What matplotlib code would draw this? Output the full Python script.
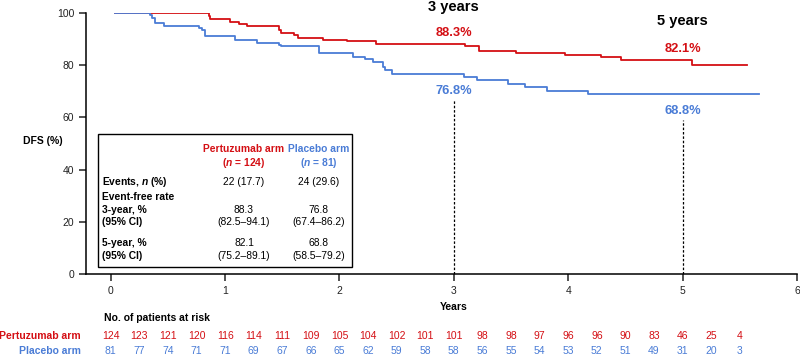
import matplotlib
matplotlib.use('Agg')
import matplotlib.pyplot as plt
from matplotlib.patches import Rectangle
from matplotlib.transforms import blended_transform_factory

plt.rcParams['font.family'] = ['Liberation Sans', 'DejaVu Sans']
plt.rcParams['mathtext.fontset'] = 'custom'
plt.rcParams['mathtext.it'] = 'Liberation Sans:italic:bold'
plt.rcParams['mathtext.rm'] = 'Liberation Sans:bold'

RED = '#d40f14'
BLUE = '#4a7cd6'

# KM curves (years, DFS %)
pert_t = [0.04, 0.86, 0.87, 1.04, 1.12, 1.19, 1.47, 1.49, 1.60, 1.64, 1.86, 2.07,
          2.32, 3.10, 3.22, 3.54, 3.97, 4.29, 4.46, 5.08, 5.56]
pert_s = [100, 99.0, 97.7, 96.7, 95.8, 95.0, 93.3, 92.3, 91.7, 90.6, 89.8, 89.1,
          88.3, 87.3, 85.6, 84.8, 83.8, 83.1, 82.1, 79.9, 79.9]
plac_t = [0.04, 0.34, 0.36, 0.39, 0.47, 0.77, 0.80, 0.82, 1.09, 1.28, 1.47, 1.49,
          1.82, 2.12, 2.22, 2.29, 2.38, 2.40, 2.46, 3.09, 3.20, 3.47, 3.62, 3.81,
          4.17, 5.67]
plac_s = [100, 99.1, 98.0, 96.2, 95.1, 94.2, 93.3, 91.0, 89.5, 88.5, 87.8, 87.2,
          84.6, 83.3, 82.3, 81.2, 79.5, 78.2, 76.8, 75.4, 74.2, 72.8, 71.8, 70.2,
          68.8, 68.8]

# landmark rates
marks = [3, 5]
pert_rate = [88.3, 82.1]
plac_rate = [76.8, 68.8]

# numbers at risk every 0.25 years
risk_t = [i * 0.25 for i in range(23)]
pert_risk = [124, 123, 121, 120, 116, 114, 111, 109, 105, 104, 102, 101, 101,
             98, 98, 97, 96, 96, 90, 83, 46, 25, 4]
plac_risk = [81, 77, 74, 71, 71, 69, 67, 66, 65, 62, 59, 58, 58, 56, 55, 54,
             53, 52, 51, 49, 31, 20, 3]

W, H = 800, 359
fig = plt.figure(figsize=(W / 100, H / 100), dpi=100)
ax = fig.add_axes([86 / W, 1 - 274 / H, (797 - 86) / W, (274 - 13) / H])


def fp(x, y):
    # pixel position -> figure fraction
    return x / W, 1 - y / H


ax.step(pert_t, pert_s, where='post', color=RED, lw=1.3)
ax.step(plac_t, plac_s, where='post', color=BLUE, lw=1.3)

ax.set_xlim(-0.216, 6)
ax.set_ylim(0, 100)
ax.set_xticks(range(7))
ax.set_yticks(range(0, 101, 20))
for s in ['top', 'right']:
    ax.spines[s].set_visible(False)
for s in ['left', 'bottom']:
    ax.spines[s].set_linewidth(1.1)
ax.tick_params(labelsize=7.5, length=5, width=1.1, colors='#222222')

# landmark lines and labels
tb = blended_transform_factory(ax.transData, fig.transFigure)
dash_top = [66.7, 59.0]
yr_lab_y = [7.5, 20.5]
pert_lab_y = [33, 49.5]
plac_lab_y = [91, 111]
for i, m in enumerate(marks):
    ax.plot([m, m], [0, dash_top[i]], ls=(0, (2, 1.5)), color='black', lw=0.9)
    ax.text(m, 1 - yr_lab_y[i] / H, f'{m} years', transform=tb, ha='center',
            va='center', fontsize=10.5, fontweight='bold')
    ax.text(m, 1 - pert_lab_y[i] / H, f'{pert_rate[i]}%', transform=tb, ha='center',
            va='center', fontsize=9.3, fontweight='bold', color=RED)
    ax.text(m, 1 - plac_lab_y[i] / H, f'{plac_rate[i]}%', transform=tb, ha='center',
            va='center', fontsize=9.3, fontweight='bold', color=BLUE)

fig.text(*fp(43, 141), 'DFS (%)', ha='center', va='center', fontsize=7.5, fontweight='bold')
fig.text(*fp(454, 307), 'Years', ha='center', va='center', fontsize=7.5, fontweight='bold')

# summary box
x0, y0 = fp(98.3, 267.3)
x1, y1 = fp(351.7, 134)
fig.add_artist(Rectangle((x0, y0), x1 - x0, y1 - y0, transform=fig.transFigure,
                         fill=False, lw=1.0, ec='black'))
tfs = 7.4
c1, c2 = 244, 318.5
fig.text(*fp(c1, 149.5), 'Pertuzumab arm', ha='center', va='center', fontsize=tfs,
         fontweight='bold', color=RED)
fig.text(*fp(c1, 162.5), '($n$ = 124)', ha='center', va='center', fontsize=tfs,
         fontweight='bold', color=RED)
fig.text(*fp(c2, 149.5), 'Placebo arm', ha='center', va='center', fontsize=tfs,
         fontweight='bold', color=BLUE)
fig.text(*fp(c2, 162.5), '($n$ = 81)', ha='center', va='center', fontsize=tfs,
         fontweight='bold', color=BLUE)
rows = [
    (181.7, 'Events, $n$ (%)', '22 (17.7)', '24 (29.6)'),
    (196.7, 'Event-free rate', '', ''),
    (210, '3-year, %', '88.3', '76.8'),
    (221.7, '(95% CI)', '(82.5–94.1)', '(67.4–86.2)'),
    (243.3, '5-year, %', '82.1', '68.8'),
    (256, '(95% CI)', '(75.2–89.1)', '(58.5–79.2)'),
]
for y, lab, a, b in rows:
    fig.text(*fp(102.3, y), lab, ha='left', va='center', fontsize=tfs, fontweight='bold')
    fig.text(*fp(c1, y), a, ha='center', va='center', fontsize=tfs)
    fig.text(*fp(c2, y), b, ha='center', va='center', fontsize=tfs)

# risk table
fig.text(*fp(104.3, 318), 'No. of patients at risk', ha='left', va='center',
         fontsize=7.5, fontweight='bold')
fig.text(*fp(81, 336), 'Pertuzumab arm', ha='right', va='center', fontsize=7.5,
         fontweight='bold', color=RED)
fig.text(*fp(81, 351), 'Placebo arm', ha='right', va='center', fontsize=7.5,
         fontweight='bold', color=BLUE)
for t, a, b in zip(risk_t, pert_risk, plac_risk):
    ax.text(t, 1 - 336 / H, str(a), transform=tb, ha='center', va='center',
            fontsize=7.5, color=RED)
    ax.text(t, 1 - 351 / H, str(b), transform=tb, ha='center', va='center',
            fontsize=7.5, color=BLUE)

fig.savefig('out.png', dpi=100)
